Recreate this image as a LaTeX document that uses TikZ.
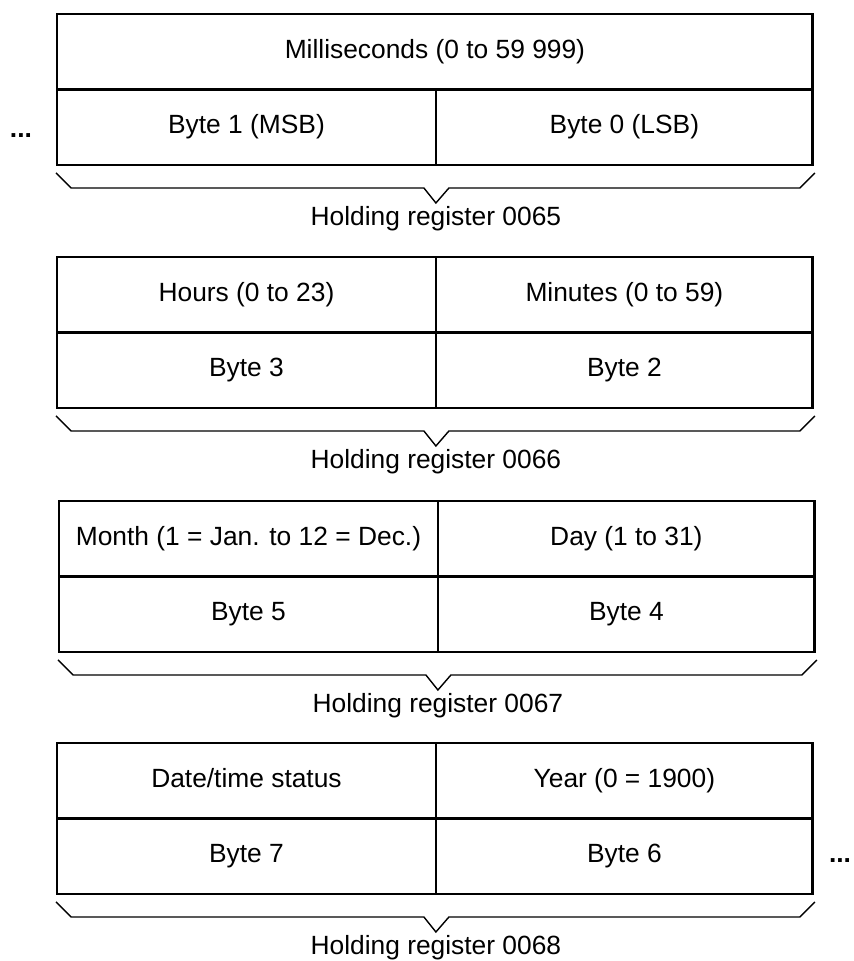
\documentclass[tikz,border=0pt]{standalone}
\usepackage{fontspec}
\setmainfont{Liberation Sans}
\usetikzlibrary{positioning, calc}

\begin{document}
\begin{tikzpicture}[
            x = 0.02cm, y = -0.02cm, % one unit is one pixel, y grows downwards
            inner sep = 0pt,
            outer sep = 0pt,
            font = \fontsize{15}{18}\selectfont
        ]

        \tikzstyle{regcell}=[
            draw = black,
            line width = 1.6pt,
            minimum height = 1.51cm,
            text height = 0.86em,
            text depth = 0.14em
        ]
        \tikzstyle{fullcell}=[regcell, minimum width = 15.12cm]
        \tikzstyle{hicell}=[regcell, minimum width = 7.58cm]
        \tikzstyle{locell}=[regcell, minimum width = 7.54cm]
        \tikzstyle{regbrace}=[line width = 0.8pt, line join = miter]
        \tikzstyle{moredots}=[font = \fontsize{15}{18}\selectfont\bfseries]

        \useasboundingbox (0,0) rectangle (853,961);

        % register 0065
        \node[fullcell, anchor=north west] (ms) at (57,14) {Milliseconds (0 to 59 999)};
        \node[hicell, below right=0pt and 0pt of ms.south west] (b1) {Byte 1 (MSB)};
        \node[locell, right=0pt of b1] (b0) {Byte 0 (LSB)};
        \node[moredots, anchor=base west] (ldots) at (10,137) {...};
        \draw[regbrace] ($(b1.south west)+(-1,8)$) -- ++(15,15) -- ($(b1.south east)+(-12,23)$)
            -- ++(12,15) -- ++(13,-15) -- ($(b0.south east)+(-13,23)$) -- ++(15,-15);
        \node (r65) at ($(b1.south east)+(0,54)$) {Holding register 0065};

        % register 0066
        \node[hicell, anchor=north west] (hours) at (57,257) {Hours (0 to 23)};
        \node[locell, right=0pt of hours] (minutes) {Minutes (0 to 59)};
        \node[hicell, below=0pt of hours] (b3) {Byte 3};
        \node[locell, right=0pt of b3] (b2) {Byte 2};
        \draw[regbrace] ($(b3.south west)+(-1,8)$) -- ++(15,15) -- ($(b3.south east)+(-12,23)$)
            -- ++(12,15) -- ++(13,-15) -- ($(b2.south east)+(-13,23)$) -- ++(15,-15);
        \node (r66) at ($(b3.south east)+(0,54)$) {Holding register 0066};

        % register 0067
        \node[hicell, anchor=north west] (month) at (59,501) {Month (1 = Jan. to 12 = Dec.)};
        \node[locell, right=0pt of month] (day) {Day (1 to 31)};
        \node[hicell, below=0pt of month] (b5) {Byte 5};
        \node[locell, right=0pt of b5] (b4) {Byte 4};
        \draw[regbrace] ($(b5.south west)+(-1,8)$) -- ++(15,15) -- ($(b5.south east)+(-12,23)$)
            -- ++(12,15) -- ++(13,-15) -- ($(b4.south east)+(-13,23)$) -- ++(15,-15);
        \node (r67) at ($(b5.south east)+(0,54)$) {Holding register 0067};

        % register 0068
        \node[hicell, anchor=north west] (status) at (57,743) {Date/time status};
        \node[locell, right=0pt of status] (year) {Year (0 = 1900)};
        \node[hicell, below=0pt of status] (b7) {Byte 7};
        \node[locell, right=0pt of b7] (b6) {Byte 6};
        \node[moredots, anchor=base west] (rdots) at (829,862) {...};
        \draw[regbrace] ($(b7.south west)+(-1,8)$) -- ++(15,15) -- ($(b7.south east)+(-12,23)$)
            -- ++(12,15) -- ++(13,-15) -- ($(b6.south east)+(-13,23)$) -- ++(15,-15);
        \node (r68) at ($(b7.south east)+(0,54)$) {Holding register 0068};

    \end{tikzpicture}
\end{document}
